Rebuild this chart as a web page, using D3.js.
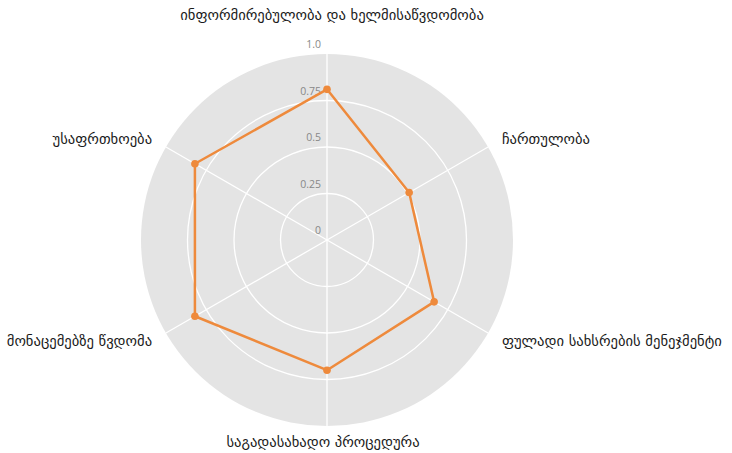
<!DOCTYPE html>
<html>
<head>
<meta charset="utf-8">
<script src="https://cdn.jsdelivr.net/npm/d3@7/dist/d3.min.js"></script>
<style>
  html, body { margin: 0; padding: 0; background: #fff; }
  svg { display: block; }
</style>
</head>
<body>
<svg id="chart" width="732" height="453"></svg>
<script>
const categories = [
  "ინფორმირებულობა და ხელმისაწვდომობა",
  "ჩართულობა",
  "ფულადი სახსრების მენეჯმენტი",
  "საგადასახადო პროცედურა",
  "მონაცემებზე წვდომა",
  "უსაფრთხოება"
];
const values = [0.81, 0.51, 0.665, 0.70, 0.82, 0.82];
const tickValues = [0, 0.25, 0.5, 0.75, 1.0];
const tickLabels = ["0", "0.25", "0.5", "0.75", "1.0"];

const svg = d3.select("#chart");
const cx = 327, cy = 240, R = 186;
const g = svg.append("g").attr("transform", `translate(${cx},${cy})`);

const r = d3.scaleLinear().domain([0, 1]).range([0, R]);
const angle = d3.scaleLinear().domain([0, categories.length]).range([0, 2 * Math.PI]);

// background disk
g.append("circle").attr("r", r(1)).attr("fill", "#e4e4e4");

// rings
g.selectAll("circle.ring").data(tickValues.filter(v => v > 0 && v < 1)).join("circle")
  .attr("class", "ring").attr("r", d => r(d))
  .attr("fill", "none").attr("stroke", "#fff").attr("stroke-width", 1.3);

// spokes
g.selectAll("line.spoke").data(categories).join("line")
  .attr("class", "spoke")
  .attr("x1", 0).attr("y1", 0)
  .attr("x2", (d, i) => r(1) * Math.sin(angle(i)))
  .attr("y2", (d, i) => -r(1) * Math.cos(angle(i)))
  .attr("stroke", "#fff").attr("stroke-width", 1.3);

// tick labels
g.selectAll("text.tick").data(tickValues).join("text")
  .attr("class", "tick")
  .attr("x", -6)
  .attr("y", d => -r(d) - 6)
  .attr("text-anchor", "end")
  .attr("font-family", "'Open Sans', 'DejaVu Sans', sans-serif")
  .attr("font-size", 10.5)
  .attr("fill", "#888")
  .text((d, i) => tickLabels[i]);

// data polygon
const line = d3.lineRadial()
  .angle((d, i) => angle(i))
  .radius(d => r(d))
  .curve(d3.curveLinearClosed);

g.append("path").datum(values)
  .attr("d", line)
  .attr("fill", "none")
  .attr("stroke", "#ee8a3c")
  .attr("stroke-width", 2.5)
  .attr("stroke-linejoin", "round");

g.selectAll("circle.pt").data(values).join("circle")
  .attr("class", "pt")
  .attr("cx", (d, i) => r(d) * Math.sin(angle(i)))
  .attr("cy", (d, i) => -r(d) * Math.cos(angle(i)))
  .attr("r", 3.8)
  .attr("fill", "#ee8a3c");

// category labels
const pad = 16;
g.selectAll("text.cat").data(categories).join("text")
  .attr("class", "cat")
  .each(function(d, i) {
    const a = angle(i);
    const s = Math.sin(a), c = Math.cos(a);
    let dist = R + pad;
    if (i === 0) dist = R + 39;
    const x = dist * s, y = -dist * c;
    const anchor = Math.abs(s) < 1e-6 ? "middle" : (s > 0 ? "start" : "end");
    d3.select(this)
      .attr("x", i === 0 ? x + 5 : (i === 3 ? x - 4 : x))
      .attr("y", y)
      .attr("dy", "0.35em")
      .attr("text-anchor", anchor);
  })
  .attr("font-family", "'DejaVu Sans', sans-serif")
  .attr("font-size", 14.6)
  .attr("fill", "#1a1a1a")
  .text(d => d);
</script>
</body>
</html>
